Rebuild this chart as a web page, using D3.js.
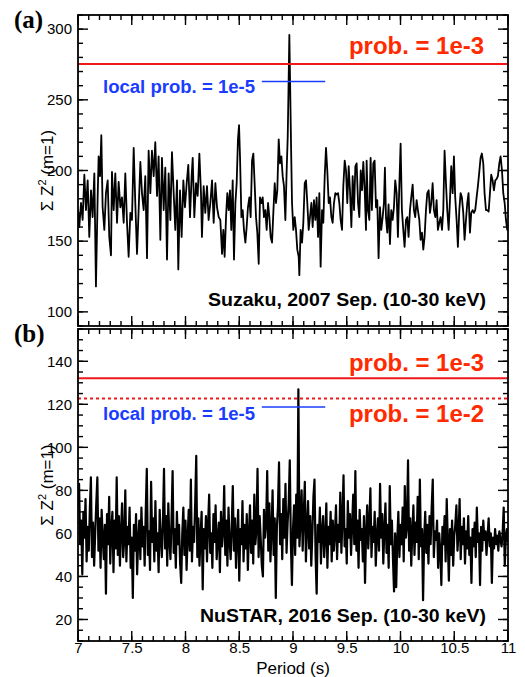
<!DOCTYPE html>
<html>
<head>
<meta charset="utf-8">
<script src="https://cdn.jsdelivr.net/npm/d3@7"></script>
<style>
  body { margin: 0; background: #fff; }
  svg text { font-family: 'Liberation Sans', Arial, Helvetica, sans-serif; }
</style>
</head>
<body>
<svg id="chart"></svg>
<script>
// Suzaku 2007 periodogram
const suzakuPeriods = [
  7.000,7.012,7.028,7.043,7.059,7.074,7.090,7.105,7.121,7.136,
  7.152,7.167,7.183,7.192,7.205,7.217,7.229,7.245,7.260,7.276,
  7.291,7.307,7.316,7.332,7.347,7.363,7.378,7.394,7.409,7.425,
  7.440,7.456,7.471,7.487,7.502,7.518,7.533,7.549,7.564,7.580,
  7.595,7.611,7.626,7.642,7.657,7.673,7.688,7.704,7.719,7.735,
  7.750,7.766,7.781,7.797,7.812,7.828,7.843,7.859,7.874,7.890,
  7.905,7.921,7.933,7.949,7.964,7.980,7.995,8.011,8.026,8.042,
  8.057,8.067,8.082,8.098,8.113,8.129,8.144,8.153,8.169,8.184,
  8.200,8.215,8.231,8.247,8.262,8.278,8.293,8.309,8.324,8.340,
  8.352,8.364,8.377,8.389,8.402,8.414,8.426,8.439,8.451,8.464,
  8.476,8.488,8.498,8.507,8.520,8.532,8.544,8.557,8.569,8.581,
  8.594,8.606,8.619,8.631,8.643,8.656,8.668,8.681,8.693,8.706,
  8.718,8.730,8.743,8.755,8.768,8.780,8.792,8.805,8.817,8.830,
  8.842,8.854,8.867,8.879,8.892,8.904,8.916,8.929,8.941,8.951,
  8.957,8.966,8.975,8.982,8.991,9.003,9.016,9.028,9.040,9.053,
  9.059,9.071,9.084,9.096,9.109,9.121,9.133,9.146,9.158,9.171,
  9.183,9.195,9.208,9.220,9.233,9.245,9.257,9.270,9.282,9.295,
  9.307,9.319,9.332,9.344,9.357,9.369,9.381,9.394,9.406,9.419,
  9.431,9.443,9.456,9.468,9.481,9.493,9.505,9.518,9.530,9.543,
  9.555,9.568,9.580,9.592,9.605,9.617,9.630,9.642,9.654,9.667,
  9.679,9.685,9.697,9.710,9.722,9.734,9.747,9.759,9.772,9.784,
  9.796,9.809,9.821,9.834,9.846,9.855,9.865,9.877,9.889,9.902,
  9.914,9.927,9.939,9.951,9.964,9.976,9.989,10.001,10.013,10.026,
  10.038,10.051,10.063,10.075,10.088,10.100,10.113,10.125,10.137,10.150,
  10.162,10.175,10.187,10.200,10.212,10.224,10.237,10.249,10.262,10.274,
  10.286,10.299,10.311,10.324,10.336,10.348,10.361,10.373,10.386,10.398,
  10.410,10.423,10.435,10.448,10.460,10.472,10.485,10.497,10.509,10.522,
  10.534,10.547,10.559,10.571,10.584,10.596,10.609,10.621,10.633,10.646,
  10.658,10.671,10.683,10.695,10.708,10.720,10.733,10.745,10.757,10.770,
  10.782,10.795,10.807,10.820,10.832,10.844,10.857,10.869,10.882,10.894,
  10.906,10.919,10.931,10.944,10.956,10.969,10.981,10.993,11.000
];
const suzakuPower = [
  172,160,177,165,197,172,193,153,186,167,
  198,118,182,210,196,225,174,158,184,193,
  153,140,199,172,198,163,192,174,181,163,
  198,163,139,170,165,216,177,141,172,206,
  184,172,196,138,214,184,214,196,220,182,
  210,151,209,172,202,137,198,165,213,184,
  158,193,130,186,153,193,174,191,204,167,
  196,209,167,191,182,212,184,153,189,170,
  189,165,177,193,163,191,174,167,165,141,
  158,139,167,184,172,186,158,193,137,177,
  191,222,232,210,167,172,158,149,160,174,
  181,167,207,212,191,167,156,134,181,177,
  181,167,172,158,177,167,153,149,170,191,
  177,186,222,205,210,196,189,165,200,224,
  252,296,252,217,177,158,167,158,144,139,
  126,158,149,163,191,193,177,158,167,177,
  160,179,165,181,153,184,132,172,163,196,
  216,200,177,181,167,163,177,184,183,184,
  177,165,158,189,207,200,177,203,186,160,
  196,172,203,205,177,167,200,186,206,186,
  158,207,172,165,209,172,205,207,174,179,
  138,174,158,167,177,202,167,156,176,148,
  172,165,174,193,184,153,189,219,172,158,
  146,165,167,153,172,181,190,172,167,179,
  172,165,151,156,144,153,172,184,186,170,
  177,191,172,167,179,158,163,167,158,172,
  214,191,172,158,179,203,184,210,181,165,
  146,172,184,181,170,151,165,177,184,156,
  170,172,170,172,181,189,199,209,212,205,
  184,172,172,171,184,197,193,186,193,194,
  196,205,210,200,184,177,165,158,160
];

// NuSTAR 2016 periodogram, trial periods 7.00 .. 11.00 in 0.01 s steps
const nustarPeriods = d3.range(401).map(i => 7 + i / 100);
const nustarPower = [
  72,83,55,66,41,70,58,76,47,63,52,71,86,49,65,45,60,74,86,52,
  67,44,71,58,48,64,32,69,55,77,46,62,70,42,66,53,86,50,68,45,
  61,74,49,57,80,47,63,55,72,44,58,30,64,52,69,41,57,66,48,72,
  54,63,45,70,90,50,61,43,84,56,67,47,75,52,60,42,71,58,49,65,
  90,53,68,45,74,57,48,66,89,51,62,44,70,55,64,46,37,60,72,50,
  66,43,58,71,52,85,47,63,56,74,96,49,67,45,59,70,34,62,53,68,
  47,64,78,51,60,44,69,56,73,48,58,65,42,70,54,61,82,50,66,45,
  72,57,48,63,82,52,67,44,59,71,38,62,55,75,47,64,53,69,43,60,
  73,51,66,46,78,55,62,90,49,68,57,45,40,71,58,64,89,52,74,47,
  61,80,50,67,30,63,72,93,55,69,48,76,58,83,51,65,74,94,56,36,
  62,73,50,78,58,127,54,66,80,52,69,84,47,63,75,53,68,45,60,77,
  85,50,32,64,56,72,46,61,68,49,58,74,44,63,55,70,47,66,52,60,
  73,48,64,56,79,51,67,87,54,62,46,75,58,69,50,64,78,55,89,52,
  66,44,71,57,62,47,68,37,60,73,53,65,81,49,63,56,70,45,59,67,
  52,83,58,69,46,62,74,51,64,44,82,55,66,48,33,60,35,57,70,49,
  64,55,72,47,82,58,63,94,52,67,45,61,73,50,65,56,77,48,85,54,
  62,29,58,70,51,64,46,68,55,72,85,49,61,57,66,44,60,52,36,63,
  55,68,47,76,56,38,62,50,66,45,59,64,73,52,60,76,48,63,55,67,
  46,61,53,68,50,58,37,62,54,65,49,72,56,60,36,63,52,66,57,61,
  50,59,67,54,60,37,58,53,62,55,59,52,61,57,54,60,72,45,58,62,
  56
];

const xTicks = [7, 7.5, 8, 8.5, 9, 9.5, 10, 10.5, 11];
const yTicksA = [100, 150, 200, 250, 300];
const yTicksB = [20, 40, 60, 80, 100, 120, 140];

const probA = [275.3];          // prob. = 1e-3
const probB = [132.1, 122.7];   // prob. = 1e-3 (solid), 1e-2 (dotted)
const localProbA = { value: 263, from: 8.71, to: 9.30 };
const localProbB = { value: 118.7, from: 8.71, to: 9.30 };

// ---- layout ----
const width = 525;
const height = 677;
const plotLeft = 78;
const plotRight = 508;
const majorLen = 10;
const minorLen = 5;
const red = '#ff2a00';
const redLine = '#f01818';
const blue = '#1a3cff';

const svg = d3.select('#chart')
  .attr('width', width)
  .attr('height', height);

const xScale = d3.scaleLinear().domain([7, 11]).range([plotLeft, plotRight]);
const xMinor = d3.range(70, 111).map(i => i / 10);

function drawPanel(p) {
  const yScale = d3.scaleLinear().domain(p.domain).range([p.bottom, p.top]);
  const g = svg.append('g').attr('class', 'panel-' + p.id);

  g.append('clipPath').attr('id', 'clip-' + p.id)
    .append('rect')
    .attr('x', plotLeft).attr('y', p.top)
    .attr('width', plotRight - plotLeft).attr('height', p.bottom - p.top);

  // periodogram
  const lineGen = d3.line()
    .x(d => xScale(d[0]))
    .y(d => yScale(d[1]));
  g.append('path')
    .datum(d3.zip(p.periods, p.power))
    .attr('clip-path', `url(#clip-${p.id})`)
    .attr('d', lineGen)
    .attr('fill', 'none')
    .attr('stroke', '#000')
    .attr('stroke-width', p.lineWidth)
    .attr('stroke-linejoin', 'round');

  // global probability thresholds
  g.selectAll('.prob')
    .data(p.prob)
    .join('line')
    .attr('class', 'prob')
    .attr('x1', xScale(7)).attr('x2', xScale(11))
    .attr('y1', d => yScale(d)).attr('y2', d => yScale(d))
    .attr('stroke', redLine)
    .attr('stroke-width', 2)
    .attr('stroke-dasharray', (d, i) => i === 1 ? '3,3' : null);

  // local probability bar
  g.append('line')
    .attr('x1', xScale(p.local.from)).attr('x2', xScale(p.local.to))
    .attr('y1', yScale(p.local.value)).attr('y2', yScale(p.local.value))
    .attr('stroke', blue)
    .attr('stroke-width', 1.5);

  // inward tick marks on all four sides
  const yMinor = d3.range(p.domain[0], p.domain[1] + 0.001, p.minorStep);
  const yTickMarks = yMinor.map(v => ({ v, len: minorLen }))
    .concat(p.yTicks.map(v => ({ v, len: majorLen })));
  const xTickMarks = xMinor.map(v => ({ v, len: minorLen }))
    .concat(xTicks.map(v => ({ v, len: majorLen })));
  const ticks = g.append('g').attr('class', 'ticks')
    .attr('stroke', '#000').attr('stroke-width', 1.4);
  ticks.selectAll('.yl').data(yTickMarks).join('line').attr('class', 'yl')
    .attr('x1', plotLeft).attr('x2', d => plotLeft + d.len)
    .attr('y1', d => yScale(d.v)).attr('y2', d => yScale(d.v));
  ticks.selectAll('.yr').data(yTickMarks).join('line').attr('class', 'yr')
    .attr('x1', plotRight).attr('x2', d => plotRight - d.len)
    .attr('y1', d => yScale(d.v)).attr('y2', d => yScale(d.v));
  ticks.selectAll('.xt').data(xTickMarks).join('line').attr('class', 'xt')
    .attr('x1', d => xScale(d.v)).attr('x2', d => xScale(d.v))
    .attr('y1', p.top).attr('y2', d => p.top + d.len);
  ticks.selectAll('.xb').data(xTickMarks).join('line').attr('class', 'xb')
    .attr('x1', d => xScale(d.v)).attr('x2', d => xScale(d.v))
    .attr('y1', p.bottom).attr('y2', d => p.bottom - d.len);

  // tick labels
  const yAxis = g.append('g')
    .attr('transform', `translate(${plotLeft},0)`)
    .call(d3.axisLeft(yScale).tickValues(p.yTicks).tickSize(0).tickPadding(6));
  yAxis.select('.domain').remove();
  yAxis.selectAll('text').attr('fill', '#000').style('font-size', '15px');

  if (p.xLabels) {
    const xAxis = g.append('g')
      .attr('transform', `translate(0,${p.bottom})`)
      .call(d3.axisBottom(xScale).tickValues(xTicks).tickSize(0).tickPadding(1).tickFormat(d => d));
    xAxis.select('.domain').remove();
    xAxis.selectAll('text').attr('fill', '#000').style('font-size', '15px');
  }

  // frame
  g.append('rect')
    .attr('x', plotLeft).attr('y', p.top)
    .attr('width', plotRight - plotLeft).attr('height', p.bottom - p.top)
    .attr('fill', 'none')
    .attr('stroke', '#000')
    .attr('stroke-width', 1.8);

  // panel letter
  g.append('text')
    .attr('x', 14).attr('y', p.top + 13)
    .style('font-family', "'Liberation Serif', 'Times New Roman', serif")
    .style('font-weight', 'bold')
    .style('font-size', '25px')
    .text(`(${p.id})`);

  // y-axis label
  const yLab = g.append('text')
    .attr('transform', `translate(53, ${(p.top + p.bottom) / 2}) rotate(-90)`)
    .attr('text-anchor', 'middle')
    .style('font-size', '17px');
  yLab.append('tspan').text('\u03A3 Z');
  yLab.append('tspan').attr('dy', -7).style('font-size', '11px').text('2');
  yLab.append('tspan').attr('dy', 7).text(' (m=1)');

  // annotations
  p.notes.forEach(n => {
    g.append('text')
      .attr('x', n.x).attr('y', n.y)
      .attr('text-anchor', n.anchor)
      .attr('fill', n.color)
      .attr('textLength', n.len)
      .attr('lengthAdjust', 'spacingAndGlyphs')
      .style('font-weight', 'bold')
      .style('font-size', n.size + 'px')
      .text(n.text);
  });
}

drawPanel({
  id: 'a', top: 15, bottom: 326, domain: [90, 310], minorStep: 10,
  yTicks: yTicksA, periods: suzakuPeriods, power: suzakuPower, lineWidth: 1.8,
  prob: probA, local: localProbA, xLabels: false,
  notes: [
    { text: 'prob. = 1e-3', x: 484, y: 54, anchor: 'end', color: red, size: 23, len: 135 },
    { text: 'local prob. = 1e-5', x: 103, y: 93, anchor: 'start', color: blue, size: 18, len: 152 },
    { text: 'Suzaku, 2007 Sep. (10-30 keV)', x: 486, y: 306, anchor: 'end', color: '#000', size: 19, len: 278 }
  ]
});

drawPanel({
  id: 'b', top: 329, bottom: 641, domain: [10, 155], minorStep: 5,
  yTicks: yTicksB, periods: nustarPeriods, power: nustarPower, lineWidth: 2.2,
  prob: probB, local: localProbB, xLabels: true,
  notes: [
    { text: 'prob. = 1e-3', x: 484, y: 371, anchor: 'end', color: red, size: 23, len: 135 },
    { text: 'prob. = 1e-2', x: 484, y: 422, anchor: 'end', color: red, size: 23, len: 135 },
    { text: 'local prob. = 1e-5', x: 103, y: 420, anchor: 'start', color: blue, size: 18, len: 152 },
    { text: 'NuSTAR, 2016 Sep. (10-30 keV)', x: 486, y: 622, anchor: 'end', color: '#000', size: 19, len: 286 }
  ]
});

svg.append('text')
  .attr('x', xScale(9))
  .attr('y', 674)
  .attr('text-anchor', 'middle')
  .style('font-size', '17px')
  .text('Period (s)');
</script>
</body>
</html>
